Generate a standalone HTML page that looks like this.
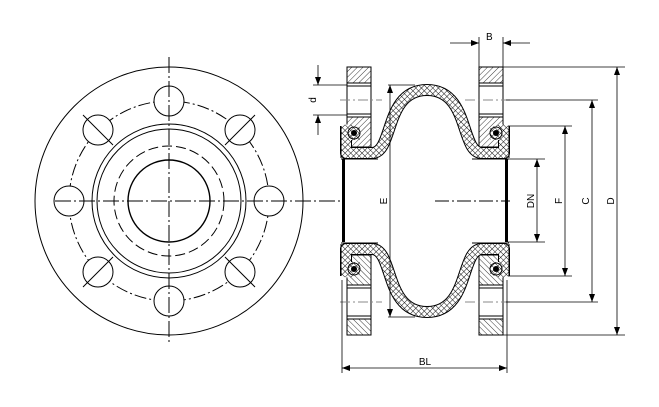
<!DOCTYPE html>
<html><head><meta charset="utf-8"><style>
html,body{margin:0;padding:0;background:#fff;width:659px;height:407px;overflow:hidden}
svg text{font-family:"Liberation Sans",sans-serif;font-size:10px;fill:#000}
</style></head><body>
<svg width="659" height="407" viewBox="0 0 659 407" xmlns="http://www.w3.org/2000/svg">
<defs>
<pattern id="h" width="4" height="4" patternUnits="userSpaceOnUse" patternTransform="rotate(45)">
<rect width="4" height="4" fill="#fff"/><line x1="0" y1="0" x2="0" y2="4" stroke="#222" stroke-width="0.9"/></pattern>
<pattern id="x" width="4" height="4" patternUnits="userSpaceOnUse" patternTransform="rotate(45)">
<rect width="4" height="4" fill="#fff"/><line x1="0" y1="0" x2="0" y2="4" stroke="#111" stroke-width="1"/><line x1="0" y1="0" x2="4" y2="0" stroke="#111" stroke-width="1"/></pattern>
<marker id="a" markerWidth="8" markerHeight="6" refX="8" refY="3" orient="auto" markerUnits="userSpaceOnUse"><path d="M0,0 L8,3 L0,6z" fill="#000"/></marker>
<marker id="b" markerWidth="8" markerHeight="6" refX="0" refY="3" orient="auto" markerUnits="userSpaceOnUse"><path d="M8,0 L0,3 L8,6z" fill="#000"/></marker>
<g id="half">
  <rect x="347" y="67" width="24" height="16" fill="url(#h)" stroke="#000"/>
  <rect x="347" y="83" width="24" height="34" fill="#fff" stroke="#000"/>
  <line x1="347" y1="86" x2="371" y2="86" stroke="#000"/><line x1="347" y1="114" x2="371" y2="114" stroke="#000"/>
  <rect x="347" y="117" width="24" height="30" fill="url(#h)" stroke="#000"/>
  <rect x="479" y="67" width="24" height="16" fill="url(#h)" stroke="#000"/>
  <rect x="479" y="83" width="24" height="34" fill="#fff" stroke="#000"/>
  <line x1="479" y1="86" x2="503" y2="86" stroke="#000"/><line x1="479" y1="114" x2="503" y2="114" stroke="#000"/>
  <rect x="479" y="117" width="24" height="30" fill="url(#h)" stroke="#000"/>
  <path d="M346,126 L346,153 L372,153 C394,153 384,90 427,90 C470,90 460,153 482,153 L504,153 L504,126" fill="none" stroke="#000" stroke-width="12" stroke-linejoin="round"/>
  <path d="M346,126 L346,153 L372,153 C394,153 384,90 427,90 C470,90 460,153 482,153 L504,153 L504,126" fill="none" stroke="url(#x)" stroke-width="10" stroke-linejoin="round"/>
  <path d="M341,126 Q350,122 360,128 L360,140 L341,140z" fill="url(#x)"/>
  <path d="M509,126 Q500,122 490,128 L490,140 L509,140z" fill="url(#x)"/>
  <circle cx="354" cy="133" r="6" fill="url(#x)" stroke="#000"/><circle cx="354" cy="133" r="3" fill="#000"/>
  <circle cx="496" cy="133" r="6" fill="url(#x)" stroke="#000"/><circle cx="496" cy="133" r="3" fill="#000"/>
  <line x1="341" y1="126" x2="341" y2="158" stroke="#000"/>
  <line x1="509" y1="126" x2="509" y2="158" stroke="#000"/>
  <line x1="341" y1="159" x2="378" y2="159" stroke="#000"/>
  <line x1="472" y1="159" x2="509" y2="159" stroke="#000"/>
  <line x1="340" y1="100" x2="382" y2="100" stroke="#888" stroke-dasharray="10,3,2,3"/>
  <line x1="465" y1="100" x2="510" y2="100" stroke="#888" stroke-dasharray="10,3,2,3"/>
</g>
</defs>
<g fill="none" stroke="#000" stroke-width="1">
<circle cx="169" cy="201" r="134"/>
<circle cx="169" cy="201" r="100" stroke-dasharray="12,3,2,3"/>
<circle cx="169" cy="201" r="77"/>
<circle cx="169" cy="201" r="72"/>
<circle cx="169" cy="201" r="55" stroke-dasharray="10,4"/>
<circle cx="169" cy="201" r="41" stroke-width="1.4"/>
<g fill="#fff">
<circle cx="169" cy="101" r="15"/><circle cx="169" cy="301" r="15"/>
<circle cx="69" cy="201" r="15"/><circle cx="269" cy="201" r="15"/>
<circle cx="98" cy="130" r="15"/><circle cx="240" cy="130" r="15"/>
<circle cx="98" cy="272" r="15"/><circle cx="240" cy="272" r="15"/>
</g>
<line x1="169" y1="57" x2="169" y2="345" stroke-dasharray="16,3,2,3"/>
<line x1="55" y1="201" x2="340" y2="201" stroke-dasharray="16,3,2,3"/>
<line x1="83" y1="115" x2="113" y2="145"/><line x1="225" y1="145" x2="255" y2="115"/>
<line x1="83" y1="287" x2="113" y2="257"/><line x1="225" y1="257" x2="255" y2="287"/>
</g>
<use href="#half"/>
<use href="#half" transform="translate(0,402) scale(1,-1)"/>
<rect x="342" y="159" width="3" height="83" fill="#000"/>
<rect x="505" y="159" width="3" height="83" fill="#000"/>
<line x1="435" y1="201" x2="510" y2="201" stroke="#000" stroke-dasharray="14,3,2,3"/>
<g stroke="#000" stroke-width="0.8" fill="none">
<line x1="479" y1="37" x2="479" y2="67"/><line x1="503" y1="37" x2="503" y2="67"/>
<line x1="450" y1="43" x2="479" y2="43" marker-end="url(#a)"/><line x1="530" y1="43" x2="503" y2="43" marker-end="url(#a)"/>
<line x1="313" y1="85" x2="347" y2="85"/><line x1="313" y1="115" x2="347" y2="115"/>
<line x1="318" y1="65" x2="318" y2="85" marker-end="url(#a)"/><line x1="318" y1="135" x2="318" y2="115" marker-end="url(#a)"/>
<line x1="390" y1="85" x2="390" y2="317" marker-start="url(#b)" marker-end="url(#a)"/>
<line x1="388" y1="85" x2="415" y2="85"/><line x1="388" y1="317" x2="415" y2="317"/>
<line x1="508" y1="159" x2="545" y2="159"/><line x1="508" y1="242" x2="545" y2="242"/>
<line x1="537" y1="159" x2="537" y2="242" marker-start="url(#b)" marker-end="url(#a)"/>
<line x1="508" y1="126" x2="572" y2="126"/><line x1="508" y1="276" x2="572" y2="276"/>
<line x1="565" y1="126" x2="565" y2="276" marker-start="url(#b)" marker-end="url(#a)"/>
<line x1="506" y1="100" x2="598" y2="100"/><line x1="506" y1="302" x2="598" y2="302"/>
<line x1="592" y1="100" x2="592" y2="302" marker-start="url(#b)" marker-end="url(#a)"/>
<line x1="503" y1="67" x2="625" y2="67"/><line x1="503" y1="335" x2="625" y2="335"/>
<line x1="617" y1="67" x2="617" y2="335" marker-start="url(#b)" marker-end="url(#a)"/>
<line x1="342" y1="280" x2="342" y2="373"/><line x1="507" y1="280" x2="507" y2="373"/>
<line x1="342" y1="368" x2="507" y2="368" marker-start="url(#b)" marker-end="url(#a)"/>
</g>
<text x="486" y="40">B</text>
<text transform="translate(316,100) rotate(-90)" text-anchor="middle">d</text>
<text transform="translate(387,201) rotate(-90)" text-anchor="middle">E</text>
<text transform="translate(534,201) rotate(-90)" text-anchor="middle">DN</text>
<text transform="translate(562,201) rotate(-90)" text-anchor="middle">F</text>
<text transform="translate(589,201) rotate(-90)" text-anchor="middle">C</text>
<text transform="translate(614,201) rotate(-90)" text-anchor="middle">D</text>
<text x="425" y="365" text-anchor="middle">BL</text>
</svg>
</body></html>
